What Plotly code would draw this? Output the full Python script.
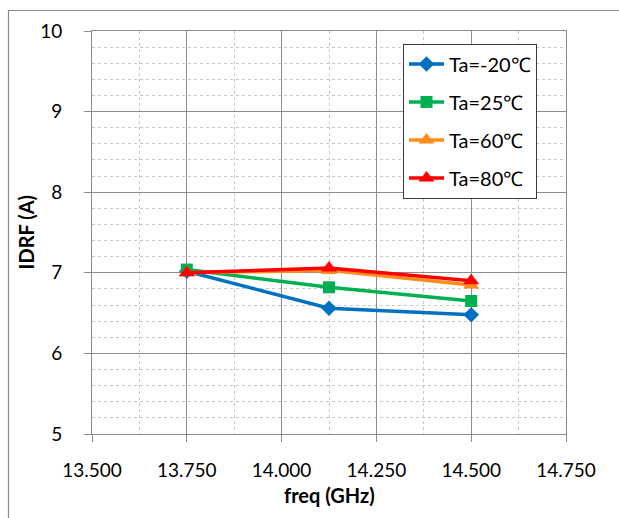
import plotly.graph_objects as go

freq = [13.75, 14.125, 14.5]
names = ["Ta=-20℃", "Ta=25℃", "Ta=60℃", "Ta=80℃"]
ta_m20 = [7.02, 6.56, 6.48]
ta_25 = [7.04, 6.82, 6.65]
ta_60 = [7.00, 7.03, 6.85]
ta_80 = [7.00, 7.06, 6.90]
x_ticks = [13.5, 13.75, 14.0, 14.25, 14.5, 14.75]
y_ticks = [5, 6, 7, 8, 9, 10]

series = [ta_m20, ta_25, ta_60, ta_80]
colors = ["#0070C0", "#00B050", "#FF8C1A", "#FF0000"]
symbols = ["diamond", "square", "triangle-up", "triangle-up"]
sizes = [12, 12, 14, 14]

FONT = "Lato, 'Open Sans', sans-serif"

fig = go.Figure()
for i, (nm, ys) in enumerate(zip(names, series)):
    fig.add_trace(go.Scatter(
        x=freq, y=ys, name=nm, mode="lines+markers",
        legendgroup=f"g{i}",
        line=dict(color=colors[i], width=3.5),
        marker=dict(symbol=symbols[i], size=sizes[i], color=colors[i]),
    ))

W, H = 619, 518
L, R, T, B = 92, 53, 31, 84
pw, ph = W - L - R, H - T - B

fig.update_layout(
    width=W, height=H,
    margin=dict(l=L, r=R, t=T, b=B, pad=0),
    paper_bgcolor="white", plot_bgcolor="white",
    font=dict(family=FONT, size=19, color="#000000"),
    showlegend=True,
    legend=dict(
        x=(403 - L) / pw, y=(H - B - 43.5) / ph, xanchor="left", yanchor="top",
        bordercolor="#3a3a3a", borderwidth=1, bgcolor="white",
        font=dict(family=FONT, size=20, color="#000000"),
        tracegroupgap=9, itemwidth=35, traceorder="grouped",
    ),
    xaxis=dict(
        range=[13.5, 14.75], tickvals=x_ticks, tickformat=".3f",
        showgrid=True, gridcolor="#8c8c8c", gridwidth=1,
        showline=True, linecolor="#8c8c8c", linewidth=1, mirror=True,
        ticks="outside", ticklen=7, tickcolor="#8c8c8c",
        ticklabelstandoff=12, zeroline=False,
        minor=dict(dtick=0.125, tick0=13.5, showgrid=True, gridcolor="#c8c8c8",
                   griddash="dot", gridwidth=1, ticks=""),
    ),
    yaxis=dict(
        range=[5, 10], tickvals=y_ticks,
        showgrid=True, gridcolor="#8c8c8c", gridwidth=1,
        showline=True, linecolor="#8c8c8c", linewidth=1, mirror=True,
        ticks="outside", ticklen=7, tickcolor="#8c8c8c",
        ticklabelstandoff=18, zeroline=False,
        minor=dict(dtick=0.2, tick0=5, showgrid=True, gridcolor="#c8c8c8",
                   griddash="dot", gridwidth=1, ticks=""),
    ),
    annotations=[
        dict(text="<b>freq (GHz)</b>", xref="paper", yref="paper",
             x=(329 - L) / pw, y=(H - B - 495) / ph, xanchor="center", yanchor="middle",
             showarrow=False, font=dict(family=FONT, size=20)),
        dict(text="<b>IDRF (A)</b>", xref="paper", yref="paper", textangle=-90,
             x=(25 - L) / pw, y=0.5, xanchor="center", yanchor="middle",
             showarrow=False, font=dict(family=FONT, size=20)),
    ],
    shapes=[
        dict(type="rect", xref="paper", yref="paper",
             x0=(8.5 - L) / pw, x1=(640 - L) / pw,
             y0=(H - B - 540) / ph, y1=(H - B - 10.5) / ph,
             line=dict(color="#8c8c8c", width=1.2), layer="below"),
    ],
)

fig.write_html("out.html")
